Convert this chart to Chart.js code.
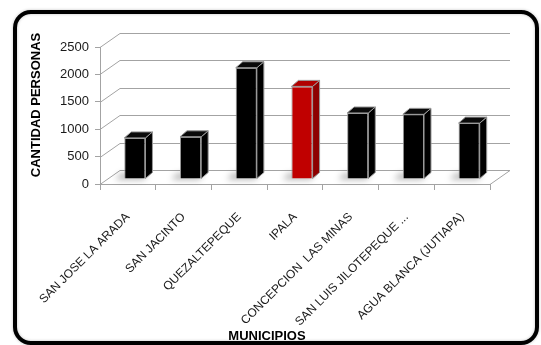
<!DOCTYPE html>
<html>
<head>
<meta charset="utf-8">
<script src="https://cdn.jsdelivr.net/npm/chart.js@4.4.1/dist/chart.umd.min.js"></script>
<style>
  html, body { margin: 0; padding: 0; background: #fff; }
  #wrap { position: relative; width: 541px; height: 345px; }
</style>
</head>
<body>
<div id="wrap"><canvas id="chart" width="541" height="345"></canvas></div>
<script>
const municipios = [
  'SAN JOSE LA ARADA', 'SAN JACINTO', 'QUEZALTEPEQUE', 'IPALA',
  'CONCEPCION  LAS MINAS', 'SAN LUIS JILOTEPEQUE ...', 'AGUA BLANCA (JUTIAPA)'
];
const personas = [750, 770, 2030, 1690, 1205, 1180, 1020];
const destacado = 'IPALA';
const yTicks = [0, 500, 1000, 1500, 2000, 2500];

// 3d box: back wall offset from the front plane
const DEPTH_X = 20, DEPTH_Y = -14;
// bars stand a third of the way into the box, with their own extrusion
const SHIFT_X = 7, SHIFT_Y = -5;
const BAR_DX = 7, BAR_DY = -6;

const GRID = '#a3a3a3';
const FONT = 'Liberation Sans, Arial, sans-serif';

const frontColor = municipios.map(m => m === destacado ? '#c00000' : '#000000');
const sideColor = municipios.map(m => m === destacado ? '#8e0000' : '#000000');
const topColor = municipios.map(m => m === destacado ? '#b10000' : '#0a0a0a');

const box3d = {
  id: 'box3d',
  beforeDraw(chart) {
    const ctx = chart.ctx;
    ctx.save();
    ctx.shadowColor = 'rgba(0,0,0,0.25)';
    ctx.shadowBlur = 3;
    ctx.strokeStyle = '#000';
    ctx.lineWidth = 4;
    ctx.beginPath();
    ctx.roundRect(15, 12, 522, 331, 16);
    ctx.stroke();
    ctx.restore();
  },
  beforeDatasetsDraw(chart) {
    const ctx = chart.ctx;
    const { left, right, bottom } = chart.chartArea;
    const y = chart.scales.y;
    ctx.save();
    ctx.strokeStyle = GRID;
    ctx.lineWidth = 1;
    // side wall diagonals and back wall gridlines
    yTicks.forEach(v => {
      const py = Math.round(y.getPixelForValue(v)) + 0.5;
      ctx.beginPath();
      ctx.moveTo(left, py);
      ctx.lineTo(left + DEPTH_X, py + DEPTH_Y);
      ctx.lineTo(right + DEPTH_X, py + DEPTH_Y);
      ctx.stroke();
    });
    // floor right edge
    ctx.beginPath();
    ctx.moveTo(right, bottom + 0.5);
    ctx.lineTo(right + DEPTH_X, bottom + 0.5 + DEPTH_Y);
    ctx.stroke();

    // soft shadows on the floor
    const meta = chart.getDatasetMeta(0);
    ctx.filter = 'blur(3px)';
    ctx.fillStyle = 'rgba(0,0,0,0.3)';
    meta.data.forEach(bar => {
      const l = bar.x - bar.width / 2 + SHIFT_X;
      const b = bar.base + SHIFT_Y;
      ctx.beginPath();
      ctx.moveTo(l - 9, b + 1);
      ctx.lineTo(l + bar.width - 2, b + 1);
      ctx.lineTo(l + bar.width + 3, b - 5);
      ctx.lineTo(l - 3, b - 5);
      ctx.closePath();
      ctx.fill();
    });
    ctx.restore();

    ctx.save();
    ctx.translate(SHIFT_X, SHIFT_Y);
  },
  afterDatasetsDraw(chart) {
    const ctx = chart.ctx;
    const meta = chart.getDatasetMeta(0);
    ctx.lineWidth = 1;
    ctx.strokeStyle = '#9a9a9a';
    meta.data.forEach((bar, i) => {
      const l = bar.x - bar.width / 2;
      const r = bar.x + bar.width / 2;
      const t = bar.y;
      const b = bar.base;
      // side face
      ctx.fillStyle = sideColor[i];
      ctx.beginPath();
      ctx.moveTo(r, t);
      ctx.lineTo(r + BAR_DX, t + BAR_DY);
      ctx.lineTo(r + BAR_DX, b + BAR_DY);
      ctx.lineTo(r, b);
      ctx.closePath();
      ctx.fill();
      ctx.stroke();
      // top face
      ctx.fillStyle = topColor[i];
      ctx.beginPath();
      ctx.moveTo(l, t);
      ctx.lineTo(l + BAR_DX, t + BAR_DY);
      ctx.lineTo(r + BAR_DX, t + BAR_DY);
      ctx.lineTo(r, t);
      ctx.closePath();
      ctx.fill();
      ctx.stroke();
    });
    ctx.restore();
  },
  afterDraw(chart) {
    const ctx = chart.ctx;
    ctx.save();
    ctx.fillStyle = '#000';
    ctx.font = 'bold 13px ' + FONT;
    ctx.textAlign = 'center';
    ctx.textBaseline = 'middle';
    ctx.fillText('MUNICIPIOS', 267, 336);
    ctx.translate(36, 105);
    ctx.rotate(-Math.PI / 2);
    ctx.fillText('CANTIDAD PERSONAS', 0, 0);
    ctx.restore();
  }
};

new Chart(document.getElementById('chart'), {
  type: 'bar',
  data: {
    labels: municipios,
    datasets: [{
      data: personas,
      backgroundColor: frontColor,
      borderColor: '#9a9a9a',
      borderWidth: 1,
      barPercentage: 0.38,
      categoryPercentage: 1,
      clip: false
    }]
  },
  options: {
    responsive: false,
    animation: false,
    layout: { padding: { top: 47, right: 51, left: 0, bottom: 0 } },
    plugins: {
      legend: { display: false },
      tooltip: { enabled: false }
    },
    scales: {
      x: {
        offset: true,
        grid: { offset: true, drawOnChartArea: false, tickLength: 6, color: GRID },
        border: { color: GRID },
        ticks: {
          autoSkip: false, minRotation: 45, maxRotation: 45,
          color: '#1a1a1a', padding: 20,
          font: { family: FONT, size: 12 }
        },
        afterFit: s => { s.height = 161; }
      },
      y: {
        min: 0, max: 2500,
        grid: { drawOnChartArea: false, tickLength: 5, color: GRID },
        border: { color: GRID },
        ticks: {
          stepSize: 500, color: '#1a1a1a', padding: 6,
          font: { family: FONT, size: 13 },
          callback: v => String(v)
        },
        afterFit: s => { s.width = 100; }
      }
    }
  },
  plugins: [box3d]
});
</script>
</body>
</html>
